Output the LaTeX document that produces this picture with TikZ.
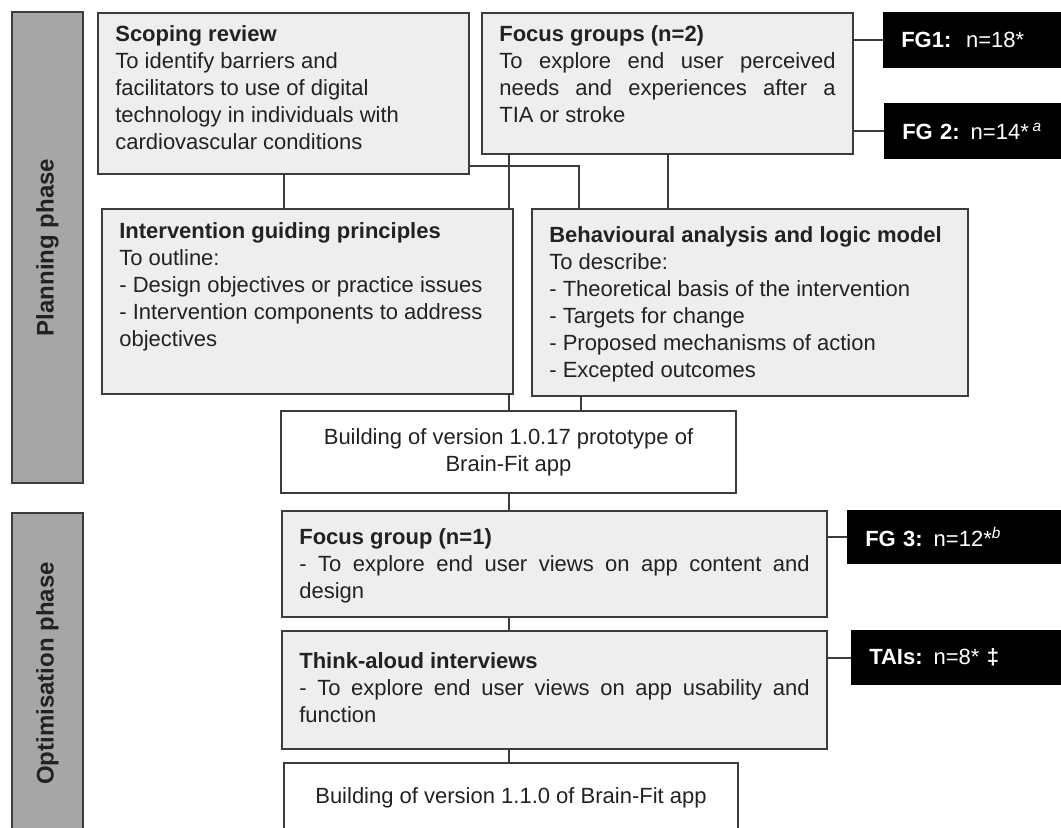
\documentclass[tikz,border=0pt]{standalone}
\usepackage{fontspec}
\setmainfont{Liberation Sans}
\definecolor{panelfill}{HTML}{EEEEEE}
\definecolor{panelline}{HTML}{3C3C3C}
\definecolor{phasefill}{HTML}{A6A6A6}
\definecolor{inktext}{HTML}{222222}
\newcommand{\inbox}[4]{\parbox[c][#2][t]{#1}{\vspace*{#3}#4}}
\newcommand{\fullline}[1]{\makebox[\linewidth][s]{#1}}

\begin{document}
\begin{tikzpicture}[x=0.75pt,y=-0.75pt]
    \tikzset{panel/.style = {draw=panelline,fill=panelfill,line width=1.5pt,anchor=north west,inner xsep=13pt,inner ysep=0pt,text=inktext,font=\fontsize{16.5}{20.25}\selectfont}}
    \tikzset{buildbox/.style = {panel,fill=white,align=center}}
    \tikzset{nbox/.style = {fill=black,text=white,anchor=north west,inner xsep=13.5pt,inner ysep=0pt,text width=138pt,minimum height=#1,font=\fontsize{16.5}{20}\selectfont}}
    \tikzset{phase/.style = {draw=panelline,fill=phasefill,line width=1.5pt,rotate=90,minimum height=53.25pt,text=inktext,font=\fontsize{18}{22}\selectfont\bfseries}}
    \tikzset{edge/.style = {line width=1.5pt,draw=panelline}}
    \useasboundingbox (0,0) rectangle (1061,828);
    \node[phase,minimum width=353.25pt] (planning) at (47.5,247.5) {Planning phase};
    \node[phase,minimum width=240.75pt] (optimisation) at (47.5,673.5) {Optimisation phase};
    \node[panel] (scoping) at (97,12) {\inbox{252.25pt}{120.75pt}{9.75pt}{\textbf{Scoping review}\\To identify barriers and\\facilitators to use of digital\\technology in individuals with\\cardiovascular conditions}};
    \node[panel] (fgroups) at (481,12) {\inbox{252.25pt}{105.75pt}{9.75pt}{\textbf{Focus groups (n=2)}\\\fullline{To explore end user perceived}\\\fullline{needs and experiences after a}\\TIA or stroke}};
    \node[nbox=42pt] (fgone) at (883,12) {\textbf{FG1:}\ \ n=18*};
    \node[nbox=42pt] (fgtwo) at (884,103) {\textbf{FG 2:} n=14*\,\textsuperscript{\textit{a}}};
    \node[panel] (principles) at (101,208) {\inbox{282.25pt}{138.75pt}{10.5pt}{\textbf{Intervention guiding principles}\\To outline:\\- Design objectives or practice issues\\- Intervention components to address\\objectives}};
    \node[panel] (logicmodel) at (531,208) {\inbox{301pt}{140.25pt}{13.5pt}{\textbf{Behavioural analysis and logic model}\\To describe:\\- Theoretical basis of the intervention\\- Targets for change\\- Proposed mechanisms of action\\- Excepted outcomes}};
    \node[buildbox,minimum width=341.25pt,minimum height=61.5pt] (buildone) at (280,410) {Building of version 1.0.17 prototype of\\Brain-Fit app};
    \node[panel] (fgbox) at (281,510) {\inbox{382.75pt}{79.5pt}{13.5pt}{\textbf{Focus group (n=1)}\\\fullline{- To explore end user views on app content and}\\design}};
    \node[nbox=40.5pt] (fgthree) at (847,510) {\textbf{FG 3:} n=12*\textsuperscript{\textit{b}}};
    \node[panel] (thinkaloud) at (281,630) {\inbox{382.75pt}{88.5pt}{16.5pt}{\textbf{Think-aloud interviews}\\\fullline{- To explore end user views on app usability and}\\function}};
    \node[nbox=41.25pt] (tais) at (851,630) {\textbf{TAIs:} n=8* \textbf{‡}};
    \node[buildbox,minimum width=340.5pt,minimum height=52.5pt] (buildtwo) at (283,762) {Building of version 1.1.0 of Brain-Fit app};
    \coordinate (scopeout) at ([yshift=6.75pt]scoping.south east);
    \coordinate (lmin) at ([xshift=36pt]logicmodel.north west);
    \coordinate (lmout) at ([xshift=37.5pt]logicmodel.south west);
    \draw[edge] (fgone.west) -- (fgone.west -| fgroups.east);
    \draw[edge] (fgtwo.west) -- (fgtwo.west -| fgroups.east);
    \draw[edge] (scoping.south) -- (scoping.south |- principles.north);
    \draw[edge] (scopeout) -| (lmin);
    \draw[edge] (fgroups.south -| buildone.south) -- (principles.north -| buildone.south);
    \draw[edge] (fgroups.south) -- (fgroups.south |- logicmodel.north);
    \draw[edge] (principles.south -| buildone.south) -- (buildone.north);
    \draw[edge] (lmout) -- (lmout |- buildone.north);
    \draw[edge] (buildone.south) -- (buildone.south |- fgbox.north);
    \draw[edge] (fgbox.south -| buildone.south) -- (thinkaloud.north -| buildone.south);
    \draw[edge] (thinkaloud.south -| buildone.south) -- (buildtwo.north -| buildone.south);
    \draw[edge] (fgthree.west) -- (fgthree.west -| fgbox.east);
    \draw[edge] (tais.west) -- (tais.west -| thinkaloud.east);
\end{tikzpicture}
\end{document}
